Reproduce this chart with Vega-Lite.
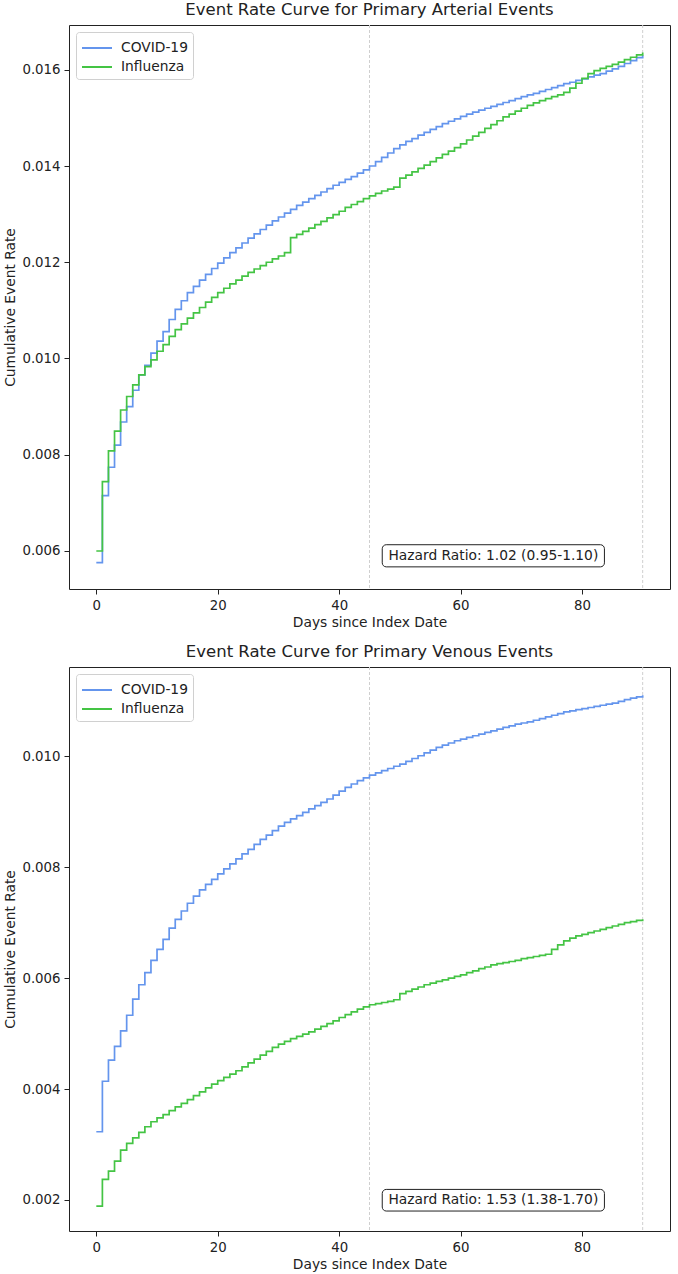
{
"$schema": "https://vega.github.io/schema/vega-lite/v6.json",
"padding": {"left": 3, "top": 1, "right": 5, "bottom": 4},
"background": "white",
"config": {
  "font": "DejaVu Sans",
  "view": {"stroke": "#222222", "strokeWidth": 1},
  "axis": {"labelFont": "DejaVu Sans", "labelFontSize": 13.3, "labelColor": "#222222", "titleFont": "DejaVu Sans", "titleFontSize": 13.8, "titleFontWeight": "normal", "titleColor": "#222222", "tickColor": "#222222", "tickSize": 5, "domain": false, "grid": false, "labelPadding": 4},
  "axisX": {"titlePadding": 4},
  "axisY": {"titlePadding": 4},
  "title": {"font": "DejaVu Sans", "fontSize": 16.5, "fontWeight": "normal", "color": "#222222", "offset": 6},
  "legend": {"orient": "top-left", "offset": 7, "padding": 5, "strokeColor": "#d0d0d0", "fillColor": "white", "cornerRadius": 3, "symbolType": "M-1.5,0H1.5", "symbolStrokeWidth": 2, "symbolSize": 400, "symbolOffset": 5, "labelOffset": 13, "labelFont": "DejaVu Sans", "labelFontSize": 13.8, "labelColor": "#222222", "rowPadding": 1, "title": null},
  "concat": {"spacing": 13}
},
"datasets": {
"arterial": [
{"group":"COVID-19","day":0,"rate":0.00576},{"group":"COVID-19","day":1,"rate":0.00715},{"group":"COVID-19","day":2,"rate":0.00774},{"group":"COVID-19","day":3,"rate":0.00820},{"group":"COVID-19","day":4,"rate":0.00868},{"group":"COVID-19","day":5,"rate":0.00900},{"group":"COVID-19","day":6,"rate":0.00934},{"group":"COVID-19","day":7,"rate":0.00966},{"group":"COVID-19","day":8,"rate":0.00986},{"group":"COVID-19","day":9,"rate":0.01011},
{"group":"COVID-19","day":10,"rate":0.01036},{"group":"COVID-19","day":11,"rate":0.01056},{"group":"COVID-19","day":12,"rate":0.01081},{"group":"COVID-19","day":13,"rate":0.01102},{"group":"COVID-19","day":14,"rate":0.01120},{"group":"COVID-19","day":15,"rate":0.01137},{"group":"COVID-19","day":16,"rate":0.01150},{"group":"COVID-19","day":17,"rate":0.01163},{"group":"COVID-19","day":18,"rate":0.01175},{"group":"COVID-19","day":19,"rate":0.01187},
{"group":"COVID-19","day":20,"rate":0.01198},{"group":"COVID-19","day":21,"rate":0.01209},{"group":"COVID-19","day":22,"rate":0.01220},{"group":"COVID-19","day":23,"rate":0.01230},{"group":"COVID-19","day":24,"rate":0.01240},{"group":"COVID-19","day":25,"rate":0.01250},{"group":"COVID-19","day":26,"rate":0.01259},{"group":"COVID-19","day":27,"rate":0.01268},{"group":"COVID-19","day":28,"rate":0.01277},{"group":"COVID-19","day":29,"rate":0.01286},
{"group":"COVID-19","day":30,"rate":0.01294},{"group":"COVID-19","day":31,"rate":0.01302},{"group":"COVID-19","day":32,"rate":0.01310},{"group":"COVID-19","day":33,"rate":0.01318},{"group":"COVID-19","day":34,"rate":0.01325},{"group":"COVID-19","day":35,"rate":0.01332},{"group":"COVID-19","day":36,"rate":0.01339},{"group":"COVID-19","day":37,"rate":0.01346},{"group":"COVID-19","day":38,"rate":0.01353},{"group":"COVID-19","day":39,"rate":0.01360},
{"group":"COVID-19","day":40,"rate":0.01366},{"group":"COVID-19","day":41,"rate":0.01372},{"group":"COVID-19","day":42,"rate":0.01378},{"group":"COVID-19","day":43,"rate":0.01385},{"group":"COVID-19","day":44,"rate":0.01392},{"group":"COVID-19","day":45,"rate":0.01400},{"group":"COVID-19","day":46,"rate":0.01409},{"group":"COVID-19","day":47,"rate":0.01418},{"group":"COVID-19","day":48,"rate":0.01427},{"group":"COVID-19","day":49,"rate":0.01436},
{"group":"COVID-19","day":50,"rate":0.01444},{"group":"COVID-19","day":51,"rate":0.01451},{"group":"COVID-19","day":52,"rate":0.01457},{"group":"COVID-19","day":53,"rate":0.01464},{"group":"COVID-19","day":54,"rate":0.01470},{"group":"COVID-19","day":55,"rate":0.01476},{"group":"COVID-19","day":56,"rate":0.01482},{"group":"COVID-19","day":57,"rate":0.01488},{"group":"COVID-19","day":58,"rate":0.01493},{"group":"COVID-19","day":59,"rate":0.01498},
{"group":"COVID-19","day":60,"rate":0.01503},{"group":"COVID-19","day":61,"rate":0.01508},{"group":"COVID-19","day":62,"rate":0.01512},{"group":"COVID-19","day":63,"rate":0.01516},{"group":"COVID-19","day":64,"rate":0.01520},{"group":"COVID-19","day":65,"rate":0.01524},{"group":"COVID-19","day":66,"rate":0.01528},{"group":"COVID-19","day":67,"rate":0.01532},{"group":"COVID-19","day":68,"rate":0.01536},{"group":"COVID-19","day":69,"rate":0.01540},
{"group":"COVID-19","day":70,"rate":0.01544},{"group":"COVID-19","day":71,"rate":0.01548},{"group":"COVID-19","day":72,"rate":0.01551},{"group":"COVID-19","day":73,"rate":0.01555},{"group":"COVID-19","day":74,"rate":0.01559},{"group":"COVID-19","day":75,"rate":0.01563},{"group":"COVID-19","day":76,"rate":0.01567},{"group":"COVID-19","day":77,"rate":0.01571},{"group":"COVID-19","day":78,"rate":0.01574},{"group":"COVID-19","day":79,"rate":0.01578},
{"group":"COVID-19","day":80,"rate":0.01581},{"group":"COVID-19","day":81,"rate":0.01585},{"group":"COVID-19","day":82,"rate":0.01589},{"group":"COVID-19","day":83,"rate":0.01592},{"group":"COVID-19","day":84,"rate":0.01597},{"group":"COVID-19","day":85,"rate":0.01602},{"group":"COVID-19","day":86,"rate":0.01607},{"group":"COVID-19","day":87,"rate":0.01613},{"group":"COVID-19","day":88,"rate":0.01619},{"group":"COVID-19","day":89,"rate":0.01625},{"group":"COVID-19","day":90,"rate":0.01630},
{"group":"Influenza","day":0,"rate":0.00600},{"group":"Influenza","day":1,"rate":0.00744},{"group":"Influenza","day":2,"rate":0.00808},{"group":"Influenza","day":3,"rate":0.00849},{"group":"Influenza","day":4,"rate":0.00893},{"group":"Influenza","day":5,"rate":0.00921},{"group":"Influenza","day":6,"rate":0.00945},{"group":"Influenza","day":7,"rate":0.00966},{"group":"Influenza","day":8,"rate":0.00983},{"group":"Influenza","day":9,"rate":0.00997},
{"group":"Influenza","day":10,"rate":0.01015},{"group":"Influenza","day":11,"rate":0.01029},{"group":"Influenza","day":12,"rate":0.01046},{"group":"Influenza","day":13,"rate":0.01060},{"group":"Influenza","day":14,"rate":0.01072},{"group":"Influenza","day":15,"rate":0.01084},{"group":"Influenza","day":16,"rate":0.01095},{"group":"Influenza","day":17,"rate":0.01106},{"group":"Influenza","day":18,"rate":0.01117},{"group":"Influenza","day":19,"rate":0.01127},
{"group":"Influenza","day":20,"rate":0.01137},{"group":"Influenza","day":21,"rate":0.01146},{"group":"Influenza","day":22,"rate":0.01155},{"group":"Influenza","day":23,"rate":0.01163},{"group":"Influenza","day":24,"rate":0.01171},{"group":"Influenza","day":25,"rate":0.01179},{"group":"Influenza","day":26,"rate":0.01186},{"group":"Influenza","day":27,"rate":0.01193},{"group":"Influenza","day":28,"rate":0.01200},{"group":"Influenza","day":29,"rate":0.01207},
{"group":"Influenza","day":30,"rate":0.01213},{"group":"Influenza","day":31,"rate":0.01220},{"group":"Influenza","day":32,"rate":0.01251},{"group":"Influenza","day":33,"rate":0.01258},{"group":"Influenza","day":34,"rate":0.01264},{"group":"Influenza","day":35,"rate":0.01271},{"group":"Influenza","day":36,"rate":0.01278},{"group":"Influenza","day":37,"rate":0.01285},{"group":"Influenza","day":38,"rate":0.01292},{"group":"Influenza","day":39,"rate":0.01299},
{"group":"Influenza","day":40,"rate":0.01306},{"group":"Influenza","day":41,"rate":0.01314},{"group":"Influenza","day":42,"rate":0.01320},{"group":"Influenza","day":43,"rate":0.01326},{"group":"Influenza","day":44,"rate":0.01332},{"group":"Influenza","day":45,"rate":0.01338},{"group":"Influenza","day":46,"rate":0.01343},{"group":"Influenza","day":47,"rate":0.01348},{"group":"Influenza","day":48,"rate":0.01352},{"group":"Influenza","day":49,"rate":0.01356},
{"group":"Influenza","day":50,"rate":0.01375},{"group":"Influenza","day":51,"rate":0.01381},{"group":"Influenza","day":52,"rate":0.01388},{"group":"Influenza","day":53,"rate":0.01395},{"group":"Influenza","day":54,"rate":0.01402},{"group":"Influenza","day":55,"rate":0.01409},{"group":"Influenza","day":56,"rate":0.01417},{"group":"Influenza","day":57,"rate":0.01424},{"group":"Influenza","day":58,"rate":0.01431},{"group":"Influenza","day":59,"rate":0.01438},
{"group":"Influenza","day":60,"rate":0.01446},{"group":"Influenza","day":61,"rate":0.01454},{"group":"Influenza","day":62,"rate":0.01462},{"group":"Influenza","day":63,"rate":0.01470},{"group":"Influenza","day":64,"rate":0.01478},{"group":"Influenza","day":65,"rate":0.01486},{"group":"Influenza","day":66,"rate":0.01494},{"group":"Influenza","day":67,"rate":0.01502},{"group":"Influenza","day":68,"rate":0.01508},{"group":"Influenza","day":69,"rate":0.01514},
{"group":"Influenza","day":70,"rate":0.01520},{"group":"Influenza","day":71,"rate":0.01526},{"group":"Influenza","day":72,"rate":0.01531},{"group":"Influenza","day":73,"rate":0.01536},{"group":"Influenza","day":74,"rate":0.01540},{"group":"Influenza","day":75,"rate":0.01544},{"group":"Influenza","day":76,"rate":0.01548},{"group":"Influenza","day":77,"rate":0.01553},{"group":"Influenza","day":78,"rate":0.01562},{"group":"Influenza","day":79,"rate":0.01572},
{"group":"Influenza","day":80,"rate":0.01582},{"group":"Influenza","day":81,"rate":0.01592},{"group":"Influenza","day":82,"rate":0.01598},{"group":"Influenza","day":83,"rate":0.01603},{"group":"Influenza","day":84,"rate":0.01607},{"group":"Influenza","day":85,"rate":0.01611},{"group":"Influenza","day":86,"rate":0.01616},{"group":"Influenza","day":87,"rate":0.01621},{"group":"Influenza","day":88,"rate":0.01626},{"group":"Influenza","day":89,"rate":0.01631},{"group":"Influenza","day":90,"rate":0.01636}
],
"venous": [
{"group":"COVID-19","day":0,"rate":0.00323},{"group":"COVID-19","day":1,"rate":0.00414},{"group":"COVID-19","day":2,"rate":0.00452},{"group":"COVID-19","day":3,"rate":0.00477},{"group":"COVID-19","day":4,"rate":0.00505},{"group":"COVID-19","day":5,"rate":0.00533},{"group":"COVID-19","day":6,"rate":0.00562},{"group":"COVID-19","day":7,"rate":0.00588},{"group":"COVID-19","day":8,"rate":0.00610},{"group":"COVID-19","day":9,"rate":0.00632},
{"group":"COVID-19","day":10,"rate":0.00652},{"group":"COVID-19","day":11,"rate":0.00670},{"group":"COVID-19","day":12,"rate":0.00690},{"group":"COVID-19","day":13,"rate":0.00706},{"group":"COVID-19","day":14,"rate":0.00721},{"group":"COVID-19","day":15,"rate":0.00735},{"group":"COVID-19","day":16,"rate":0.00748},{"group":"COVID-19","day":17,"rate":0.00759},{"group":"COVID-19","day":18,"rate":0.00769},{"group":"COVID-19","day":19,"rate":0.00778},
{"group":"COVID-19","day":20,"rate":0.00788},{"group":"COVID-19","day":21,"rate":0.00797},{"group":"COVID-19","day":22,"rate":0.00806},{"group":"COVID-19","day":23,"rate":0.00815},{"group":"COVID-19","day":24,"rate":0.00824},{"group":"COVID-19","day":25,"rate":0.00832},{"group":"COVID-19","day":26,"rate":0.00841},{"group":"COVID-19","day":27,"rate":0.00850},{"group":"COVID-19","day":28,"rate":0.00858},{"group":"COVID-19","day":29,"rate":0.00866},
{"group":"COVID-19","day":30,"rate":0.00874},{"group":"COVID-19","day":31,"rate":0.00881},{"group":"COVID-19","day":32,"rate":0.00887},{"group":"COVID-19","day":33,"rate":0.00893},{"group":"COVID-19","day":34,"rate":0.00899},{"group":"COVID-19","day":35,"rate":0.00905},{"group":"COVID-19","day":36,"rate":0.00911},{"group":"COVID-19","day":37,"rate":0.00917},{"group":"COVID-19","day":38,"rate":0.00923},{"group":"COVID-19","day":39,"rate":0.00930},
{"group":"COVID-19","day":40,"rate":0.00937},{"group":"COVID-19","day":41,"rate":0.00944},{"group":"COVID-19","day":42,"rate":0.00950},{"group":"COVID-19","day":43,"rate":0.00956},{"group":"COVID-19","day":44,"rate":0.00961},{"group":"COVID-19","day":45,"rate":0.00966},{"group":"COVID-19","day":46,"rate":0.00970},{"group":"COVID-19","day":47,"rate":0.00974},{"group":"COVID-19","day":48,"rate":0.00978},{"group":"COVID-19","day":49,"rate":0.00982},
{"group":"COVID-19","day":50,"rate":0.00986},{"group":"COVID-19","day":51,"rate":0.00991},{"group":"COVID-19","day":52,"rate":0.00996},{"group":"COVID-19","day":53,"rate":0.01001},{"group":"COVID-19","day":54,"rate":0.01006},{"group":"COVID-19","day":55,"rate":0.01011},{"group":"COVID-19","day":56,"rate":0.01016},{"group":"COVID-19","day":57,"rate":0.01020},{"group":"COVID-19","day":58,"rate":0.01024},{"group":"COVID-19","day":59,"rate":0.01028},
{"group":"COVID-19","day":60,"rate":0.01031},{"group":"COVID-19","day":61,"rate":0.01034},{"group":"COVID-19","day":62,"rate":0.01037},{"group":"COVID-19","day":63,"rate":0.01040},{"group":"COVID-19","day":64,"rate":0.01043},{"group":"COVID-19","day":65,"rate":0.01046},{"group":"COVID-19","day":66,"rate":0.01049},{"group":"COVID-19","day":67,"rate":0.01052},{"group":"COVID-19","day":68,"rate":0.01055},{"group":"COVID-19","day":69,"rate":0.01058},
{"group":"COVID-19","day":70,"rate":0.01060},{"group":"COVID-19","day":71,"rate":0.01062},{"group":"COVID-19","day":72,"rate":0.01065},{"group":"COVID-19","day":73,"rate":0.01068},{"group":"COVID-19","day":74,"rate":0.01071},{"group":"COVID-19","day":75,"rate":0.01074},{"group":"COVID-19","day":76,"rate":0.01077},{"group":"COVID-19","day":77,"rate":0.01080},{"group":"COVID-19","day":78,"rate":0.01082},{"group":"COVID-19","day":79,"rate":0.01084},
{"group":"COVID-19","day":80,"rate":0.01086},{"group":"COVID-19","day":81,"rate":0.01088},{"group":"COVID-19","day":82,"rate":0.01090},{"group":"COVID-19","day":83,"rate":0.01092},{"group":"COVID-19","day":84,"rate":0.01094},{"group":"COVID-19","day":85,"rate":0.01096},{"group":"COVID-19","day":86,"rate":0.01099},{"group":"COVID-19","day":87,"rate":0.01102},{"group":"COVID-19","day":88,"rate":0.01105},{"group":"COVID-19","day":89,"rate":0.01107},{"group":"COVID-19","day":90,"rate":0.01110},
{"group":"Influenza","day":0,"rate":0.00189},{"group":"Influenza","day":1,"rate":0.00237},{"group":"Influenza","day":2,"rate":0.00252},{"group":"Influenza","day":3,"rate":0.00270},{"group":"Influenza","day":4,"rate":0.00290},{"group":"Influenza","day":5,"rate":0.00302},{"group":"Influenza","day":6,"rate":0.00312},{"group":"Influenza","day":7,"rate":0.00322},{"group":"Influenza","day":8,"rate":0.00332},{"group":"Influenza","day":9,"rate":0.00341},
{"group":"Influenza","day":10,"rate":0.00348},{"group":"Influenza","day":11,"rate":0.00354},{"group":"Influenza","day":12,"rate":0.00361},{"group":"Influenza","day":13,"rate":0.00368},{"group":"Influenza","day":14,"rate":0.00374},{"group":"Influenza","day":15,"rate":0.00381},{"group":"Influenza","day":16,"rate":0.00388},{"group":"Influenza","day":17,"rate":0.00395},{"group":"Influenza","day":18,"rate":0.00402},{"group":"Influenza","day":19,"rate":0.00409},
{"group":"Influenza","day":20,"rate":0.00415},{"group":"Influenza","day":21,"rate":0.00421},{"group":"Influenza","day":22,"rate":0.00427},{"group":"Influenza","day":23,"rate":0.00433},{"group":"Influenza","day":24,"rate":0.00440},{"group":"Influenza","day":25,"rate":0.00447},{"group":"Influenza","day":26,"rate":0.00454},{"group":"Influenza","day":27,"rate":0.00461},{"group":"Influenza","day":28,"rate":0.00468},{"group":"Influenza","day":29,"rate":0.00475},
{"group":"Influenza","day":30,"rate":0.00481},{"group":"Influenza","day":31,"rate":0.00486},{"group":"Influenza","day":32,"rate":0.00491},{"group":"Influenza","day":33,"rate":0.00495},{"group":"Influenza","day":34,"rate":0.00499},{"group":"Influenza","day":35,"rate":0.00503},{"group":"Influenza","day":36,"rate":0.00508},{"group":"Influenza","day":37,"rate":0.00513},{"group":"Influenza","day":38,"rate":0.00518},{"group":"Influenza","day":39,"rate":0.00523},
{"group":"Influenza","day":40,"rate":0.00529},{"group":"Influenza","day":41,"rate":0.00534},{"group":"Influenza","day":42,"rate":0.00539},{"group":"Influenza","day":43,"rate":0.00544},{"group":"Influenza","day":44,"rate":0.00548},{"group":"Influenza","day":45,"rate":0.00552},{"group":"Influenza","day":46,"rate":0.00554},{"group":"Influenza","day":47,"rate":0.00556},{"group":"Influenza","day":48,"rate":0.00558},{"group":"Influenza","day":49,"rate":0.00561},
{"group":"Influenza","day":50,"rate":0.00572},{"group":"Influenza","day":51,"rate":0.00576},{"group":"Influenza","day":52,"rate":0.00580},{"group":"Influenza","day":53,"rate":0.00584},{"group":"Influenza","day":54,"rate":0.00588},{"group":"Influenza","day":55,"rate":0.00591},{"group":"Influenza","day":56,"rate":0.00594},{"group":"Influenza","day":57,"rate":0.00597},{"group":"Influenza","day":58,"rate":0.00600},{"group":"Influenza","day":59,"rate":0.00603},
{"group":"Influenza","day":60,"rate":0.00606},{"group":"Influenza","day":61,"rate":0.00610},{"group":"Influenza","day":62,"rate":0.00613},{"group":"Influenza","day":63,"rate":0.00617},{"group":"Influenza","day":64,"rate":0.00620},{"group":"Influenza","day":65,"rate":0.00624},{"group":"Influenza","day":66,"rate":0.00626},{"group":"Influenza","day":67,"rate":0.00628},{"group":"Influenza","day":68,"rate":0.00630},{"group":"Influenza","day":69,"rate":0.00632},
{"group":"Influenza","day":70,"rate":0.00635},{"group":"Influenza","day":71,"rate":0.00637},{"group":"Influenza","day":72,"rate":0.00639},{"group":"Influenza","day":73,"rate":0.00641},{"group":"Influenza","day":74,"rate":0.00643},{"group":"Influenza","day":75,"rate":0.00652},{"group":"Influenza","day":76,"rate":0.00660},{"group":"Influenza","day":77,"rate":0.00667},{"group":"Influenza","day":78,"rate":0.00672},{"group":"Influenza","day":79,"rate":0.00676},
{"group":"Influenza","day":80,"rate":0.00679},{"group":"Influenza","day":81,"rate":0.00682},{"group":"Influenza","day":82,"rate":0.00685},{"group":"Influenza","day":83,"rate":0.00688},{"group":"Influenza","day":84,"rate":0.00691},{"group":"Influenza","day":85,"rate":0.00694},{"group":"Influenza","day":86,"rate":0.00697},{"group":"Influenza","day":87,"rate":0.00700},{"group":"Influenza","day":88,"rate":0.00702},{"group":"Influenza","day":89,"rate":0.00704},{"group":"Influenza","day":90,"rate":0.00706}
],
"markers": [{"day": 45}, {"day": 90}],
"notes_arterial": [{"label": "Hazard Ratio: 1.02 (0.95-1.10)"}],
"notes_venous": [{"label": "Hazard Ratio: 1.53 (1.38-1.70)"}]
},
"resolve": {"legend": {"color": "independent"}, "scale": {"y": "independent"}},
"vconcat": [
{
  "title": "Event Rate Curve for Primary Arterial Events",
  "width": 601, "height": 564,
  "layer": [
    {"data": {"name": "markers"}, "mark": {"type": "rule", "color": "#cfcfcf", "strokeDash": [3, 2], "strokeWidth": 1},
     "encoding": {"x": {"field": "day", "type": "quantitative", "scale": {"domain": [-4.5, 94.5], "nice": false, "zero": false}}}},
    {"data": {"name": "arterial"}, "mark": {"type": "line", "interpolate": "step-after", "strokeWidth": 1.7},
     "encoding": {
       "x": {"field": "day", "type": "quantitative", "scale": {"domain": [-4.5, 94.5], "nice": false, "zero": false}, "axis": {"title": "Days since Index Date", "values": [0, 20, 40, 60, 80]}},
       "y": {"field": "rate", "type": "quantitative", "scale": {"domain": [0.00521, 0.01693], "nice": false, "zero": false}, "axis": {"title": "Cumulative Event Rate", "values": [0.006, 0.008, 0.010, 0.012, 0.014, 0.016], "format": ".3f"}},
       "color": {"field": "group", "type": "nominal", "scale": {"domain": ["COVID-19", "Influenza"], "range": ["#6495ED", "#44C444"]}}
     }},
    {"data": {"name": "notes_arterial"}, "mark": {"type": "rect", "fill": "white", "stroke": "#222222", "strokeWidth": 1, "cornerRadius": 4},
     "encoding": {"x": {"datum": 47.1}, "x2": {"datum": 83.7}, "y": {"datum": 0.00567}, "y2": {"datum": 0.00613}}},
    {"data": {"name": "notes_arterial"}, "mark": {"type": "text", "font": "DejaVu Sans", "fontSize": 13.8, "color": "#222222", "align": "center", "baseline": "middle"},
     "encoding": {"x": {"datum": 65.4}, "y": {"datum": 0.0059}, "text": {"field": "label", "type": "nominal"}}}
  ]
},
{
  "title": "Event Rate Curve for Primary Venous Events",
  "width": 601, "height": 564,
  "layer": [
    {"data": {"name": "markers"}, "mark": {"type": "rule", "color": "#cfcfcf", "strokeDash": [3, 2], "strokeWidth": 1},
     "encoding": {"x": {"field": "day", "type": "quantitative", "scale": {"domain": [-4.5, 94.5], "nice": false, "zero": false}}}},
    {"data": {"name": "venous"}, "mark": {"type": "line", "interpolate": "step-after", "strokeWidth": 1.7},
     "encoding": {
       "x": {"field": "day", "type": "quantitative", "scale": {"domain": [-4.5, 94.5], "nice": false, "zero": false}, "axis": {"title": "Days since Index Date", "values": [0, 20, 40, 60, 80]}},
       "y": {"field": "rate", "type": "quantitative", "scale": {"domain": [0.00144, 0.01161], "nice": false, "zero": false}, "axis": {"title": "Cumulative Event Rate", "values": [0.002, 0.004, 0.006, 0.008, 0.010], "format": ".3f"}},
       "color": {"field": "group", "type": "nominal", "scale": {"domain": ["COVID-19", "Influenza"], "range": ["#6495ED", "#44C444"]}}
     }},
    {"data": {"name": "notes_venous"}, "mark": {"type": "rect", "fill": "white", "stroke": "#222222", "strokeWidth": 1, "cornerRadius": 4},
     "encoding": {"x": {"datum": 47.1}, "x2": {"datum": 83.7}, "y": {"datum": 0.00180}, "y2": {"datum": 0.00219}}},
    {"data": {"name": "notes_venous"}, "mark": {"type": "text", "font": "DejaVu Sans", "fontSize": 13.8, "color": "#222222", "align": "center", "baseline": "middle"},
     "encoding": {"x": {"datum": 65.4}, "y": {"datum": 0.001995}, "text": {"field": "label", "type": "nominal"}}}
  ]
}
]
}
